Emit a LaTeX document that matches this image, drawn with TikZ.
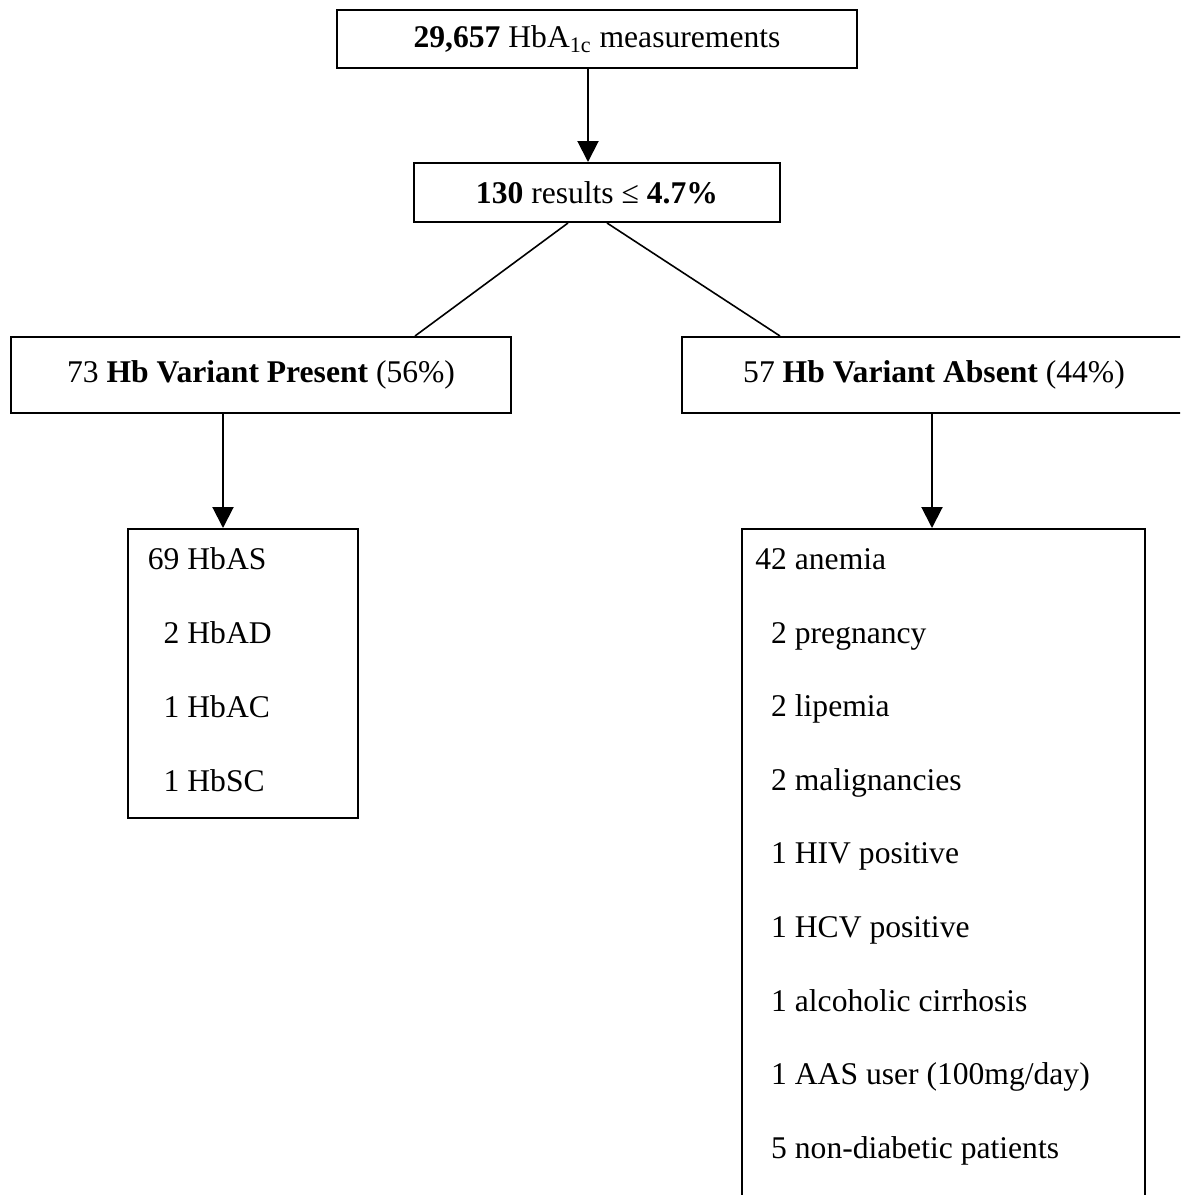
\documentclass[tikz,border=0pt]{standalone}
\usepackage{fontspec}
\setmainfont{Liberation Serif}
\usetikzlibrary{
    arrows.meta,
    positioning
}

\tikzset{
    box/.style={draw, line width=1pt, inner sep=0pt, font=\fontsize{15.8}{19}\selectfont},
    item/.style={anchor=base west, inner sep=0pt, font=\fontsize{15.8}{19}\selectfont},
    arrow/.style={-{Triangle[width=10.5pt,length=10.5pt]}, line width=1pt},
    link/.style={line width=0.8pt}
}

\begin{document}
\begin{tikzpicture} [x=0.5pt, y=-0.5pt]
    \useasboundingbox (0,0) rectangle (1180,1195);
    \clip (0,0) rectangle (1180,1195);

    % boxes
    \node[box, minimum width=260pt, minimum height=29pt]   (measurements)   at (597,39)    {\textbf{29,657} HbA\textsubscript{1c} measurements};
    \node[box, minimum width=183pt, minimum height=29.5pt] (lowresults)     at (597,192.5) {\textbf{130} results ≤ \textbf{4.7\%}};
    \node[box, minimum width=250pt, minimum height=38pt]   (variantpresent) at (261,375)   {73 \textbf{Hb Variant Present} (56\%)};
    \node[box, minimum width=252pt, minimum height=38pt]   (variantabsent)  at (934,375)   {57 \textbf{Hb Variant Absent} (44\%)};
    \node[box, anchor=north west, minimum width=115pt, minimum height=144.5pt] (variantlist) at (127,528) {};
    \node[box, anchor=north west, minimum width=201.5pt, minimum height=345pt] (causelist)   at (741,528) {};

    % list entries
    \node[item] (hbas) at (147.5,569) {69 HbAS};
    \node[item] (hbad) at (147.5,643) {\hphantom{0}2 HbAD};
    \node[item] (hbac) at (147.5,717) {\hphantom{0}1 HbAC};
    \node[item] (hbsc) at (147.5,791) {\hphantom{0}1 HbSC};

    \node[item] (anemia)       at (755,569)  {42 anemia};
    \node[item] (pregnancy)    at (755,643)  {\hphantom{0}2 pregnancy};
    \node[item] (lipemia)      at (755,716)  {\hphantom{0}2 lipemia};
    \node[item] (malignancies) at (755,790)  {\hphantom{0}2 malignancies};
    \node[item] (hiv)          at (755,863)  {\hphantom{0}1 HIV positive};
    \node[item] (hcv)          at (755,937)  {\hphantom{0}1 HCV positive};
    \node[item] (cirrhosis)    at (755,1011) {\hphantom{0}1 alcoholic cirrhosis};
    \node[item] (aas)          at (755,1084) {\hphantom{0}1 AAS user (100mg/day)};
    \node[item] (nondiabetic)  at (755,1158) {\hphantom{0}5 non-diabetic patients};

    % connectors
    \draw[arrow] ([xshift=-4.5pt]measurements.south) -- ([xshift=-4.5pt]measurements.south |- lowresults.north);
    \draw[link]  ([xshift=-14.5pt]lowresults.south) -- ([xshift=77pt]variantpresent.north);
    \draw[link]  ([xshift=5pt]lowresults.south) -- ([xshift=-77pt]variantabsent.north);
    \draw[arrow] ([xshift=-19pt]variantpresent.south) -- ([xshift=-19pt]variantpresent.south |- variantlist.north);
    \draw[arrow] ([xshift=-1pt]variantabsent.south) -- ([xshift=-1pt]variantabsent.south |- causelist.north);
\end{tikzpicture}
\end{document}
